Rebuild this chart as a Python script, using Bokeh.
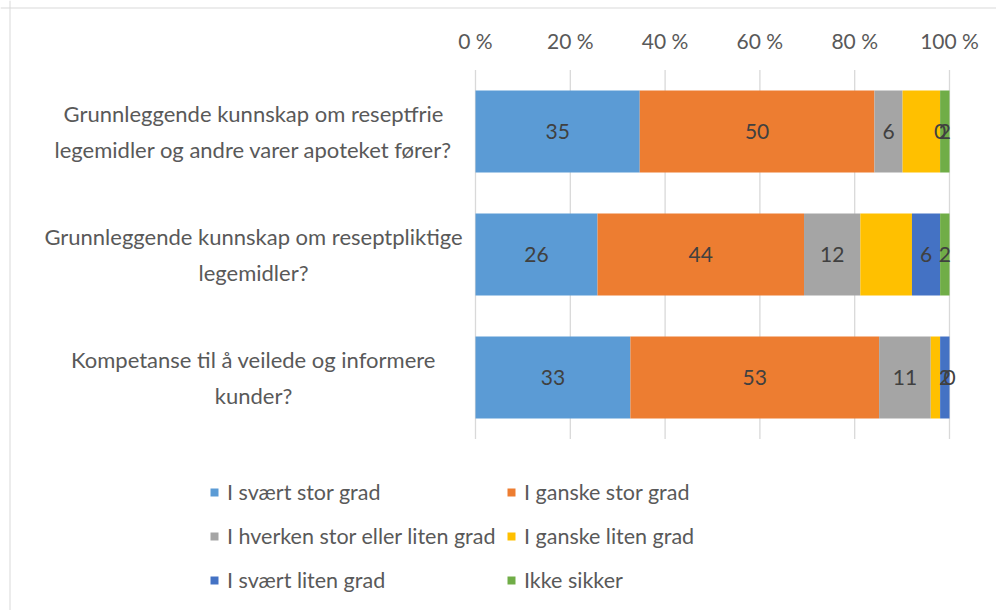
from bokeh.plotting import figure
from bokeh.models import ColumnDataSource, Range1d, Legend, LegendItem, Span
from bokeh.core.properties import value
from bokeh.embed import file_html
from bokeh.resources import INLINE

categories = [
    "Grunnleggende kunnskap om reseptfrie\nlegemidler og andre varer apoteket fører?",
    "Grunnleggende kunnskap om reseptpliktige\nlegemidler?",
    "Kompetanse til å veilede og informere\nkunder?",
]
series_names = ["I svært stor grad", "I ganske stor grad", "I hverken stor eller liten grad",
                "I ganske liten grad", "I svært liten grad", "Ikke sikker"]
svaert_stor = [35, 26, 33]
ganske_stor = [50, 44, 53]
hverken = [6, 12, 11]
ganske_liten = [8, 11, 2]
svaert_liten = [0, 6, 2]
ikke_sikker = [2, 2, 0]
show_value_labels = [True, True, True, False, True, True]
colors = ["#5B9BD5", "#ED7D31", "#A5A5A5", "#FFC000", "#4472C4", "#70AD47"]
tick_values = [0, 20, 40, 60, 80, 100]
tick_labels = ["0 %", "20 %", "40 %", "60 %", "80 %", "100 %"]

# ---- layout (screen pixels) ----
W, H = 996, 610
BORDER_L, BORDER_T = 9.5, 7.5     # chart-area border of the original
X0_PX, X100_PX = 475, 949          # where 0 % and 100 % sit
ROW0_PX, BAND_PX = 131, 123        # centre of first row, row pitch

series = [svaert_stor, ganske_stor, hverken, ganske_liten, svaert_liten, ikke_sikker]
keys = ["s%d" % i for i in range(len(series))]
n = len(categories)
totals = [sum(s[i] for s in series) for i in range(n)]
ypos = [-i for i in range(n)]

data = {"y": ypos}
for k, s in zip(keys, series):
    data[k] = [v / t * 100 for v, t in zip(s, totals)]
src = ColumnDataSource(data)

ppu = (X100_PX - X0_PX) / 100.0
x_start = -X0_PX / ppu
x_end = 100 + (W - X100_PX) / ppu
y_end = ROW0_PX / BAND_PX
y_start = -(n - 1) - (H - (ROW0_PX + (n - 1) * BAND_PX)) / BAND_PX

FONT = "Lato"
TXT = "#595959"

p = figure(width=W, height=H, output_backend="svg", toolbar_location=None,
           x_range=Range1d(x_start, x_end), y_range=Range1d(y_start, y_end),
           min_border_left=0, min_border_top=0, min_border_right=0, min_border_bottom=0)
p.axis.visible = False
p.grid.visible = False
p.outline_line_color = None
p.background_fill_color = "white"
p.border_fill_color = "white"

# chart border (top and left edges are inside the window)
p.add_layout(Span(location=x_start + BORDER_L / ppu, dimension="height",
                  line_color="#d9d9d9", line_width=1))
p.add_layout(Span(location=y_end - BORDER_T / BAND_PX, dimension="width",
                  line_color="#d9d9d9", line_width=1))

# vertical gridlines spanning half a band beyond the outer rows
g_top = ypos[0] + 0.5
g_bot = ypos[-1] - 0.5
p.segment(x0=tick_values, x1=tick_values, y0=[g_bot] * len(tick_values),
          y1=[g_top] * len(tick_values), line_color="#d9d9d9", line_width=1.3)

renderers = p.hbar_stack(keys, y="y", height=82 / BAND_PX, color=colors, source=src,
                         line_color=None)

# tick labels above the plot area
p.text(x=tick_values, y=[g_top] * len(tick_values), text=tick_labels, y_offset=-30,
       text_align="center", text_baseline="middle", text_font=value(FONT),
       text_font_size="21px", text_color=TXT)

# category labels
p.text(x=[0] * n, y=ypos, text=categories, x_offset=-222, text_align="center",
       text_baseline="middle", text_font=value(FONT), text_font_size="22px",
       text_color=TXT, text_line_height=1.36)

# value labels
lx, ly, lt = [], [], []
for ci in range(n):
    cum = 0.0
    for si, k in enumerate(keys):
        w = data[k][ci]
        if show_value_labels[si]:
            lx.append(cum + w / 2)
            ly.append(ypos[ci])
            lt.append(str(series[si][ci]))
        cum += w
p.text(x=lx, y=ly, text=lt, text_align="center", text_baseline="middle",
       text_font=value(FONT), text_font_size="21px", text_color="#404040")

items = [LegendItem(label=nm, renderers=[r]) for nm, r in zip(series_names, renderers)]
legend = Legend(items=items, location=(209, 13), orientation="horizontal", ncols=2,
                glyph_width=10, glyph_height=10, label_standoff=8, label_height=35,
                label_width=270, spacing=9, padding=0, margin=0, border_line_color=None,
                background_fill_alpha=0, label_text_font=FONT, label_text_font_size="21.5px",
                label_text_color=TXT)
p.add_layout(legend)

open("out.html", "w").write(file_html(p, INLINE))
